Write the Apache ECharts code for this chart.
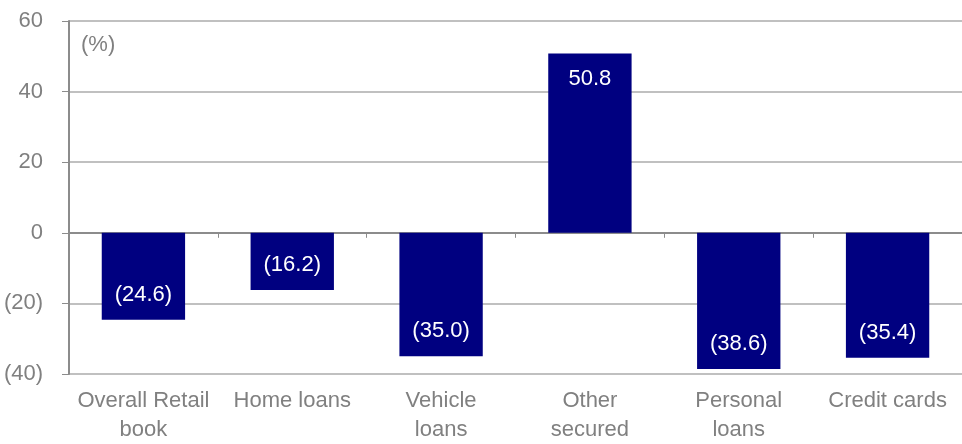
<!DOCTYPE html>
<html>
<head>
<meta charset="utf-8">
<style>html,body{margin:0;padding:0;background:#fff;}#c{width:962px;height:444px;}</style>
<script src="https://cdn.jsdelivr.net/npm/echarts@6/dist/echarts.min.js"></script>
</head>
<body>
<div id="c"></div>
<script>
var categories = ["Overall Retail\nbook", "Home loans", "Vehicle\nloans", "Other\nsecured", "Personal\nloans", "Credit cards"];
var values = [-24.6, -16.2, -35.0, 50.8, -38.6, -35.4];
var yTicks = [-40, -20, 0, 20, 40, 60];
var unitLabel = "(%)";

function fmtNum(v, d) {
  var s = Math.abs(v).toFixed(d);
  return v < 0 ? "(" + s + ")" : s;
}

var FONT = "Liberation Sans, Arial, sans-serif";
var FS = 22;
var chart = echarts.init(document.getElementById('c'), null, {renderer: 'canvas'});
chart.setOption({
  animation: false,
  backgroundColor: '#ffffff',
  grid: {left: 69, right: -1, top: 21, bottom: 68, containLabel: false},
  graphic: [{
    type: 'text', left: 81, top: 34,
    style: {text: unitLabel, fill: '#808080', font: FS + 'px ' + FONT}
  }],
  xAxis: [{
    type: 'category', data: categories, position: 'bottom',
    axisLine: {show: false, onZero: false},
    axisTick: {show: false},
    axisLabel: {color: '#808080', fontSize: FS, fontFamily: FONT, lineHeight: 29, margin: 12, interval: 0}
  }, {
    type: 'category', data: categories, position: 'bottom',
    axisLine: {show: true, onZero: true, lineStyle: {color: '#8c8c8c', width: 2}},
    axisTick: {show: true, length: 5, lineStyle: {color: '#8c8c8c', width: 1}},
    axisLabel: {show: false}
  }],
  yAxis: {
    type: 'value', min: yTicks[0], max: yTicks[yTicks.length - 1], interval: 20,
    axisLine: {show: true, lineStyle: {color: '#8c8c8c', width: 2}},
    axisTick: {show: true, length: 7, lineStyle: {color: '#8c8c8c'}},
    splitLine: {show: true, lineStyle: {color: '#c0c0c0', width: 2}},
    axisLabel: {color: '#808080', fontSize: FS, fontFamily: FONT, margin: 26,
      formatter: function (v) { return fmtNum(v, 0); }}
  },
  series: [{
    type: 'bar', xAxisIndex: 0, barWidth: '56%',
    itemStyle: {color: '#000080'},
    data: values.map(function (v) {
      return {value: v, label: {position: v < 0 ? 'insideBottom' : 'insideTop'}};
    }),
    label: {show: true, color: '#ffffff', fontSize: FS, fontFamily: FONT, distance: 14,
      formatter: function (p) { return fmtNum(p.value, 1); }}
  }]
});
</script>
</body>
</html>
